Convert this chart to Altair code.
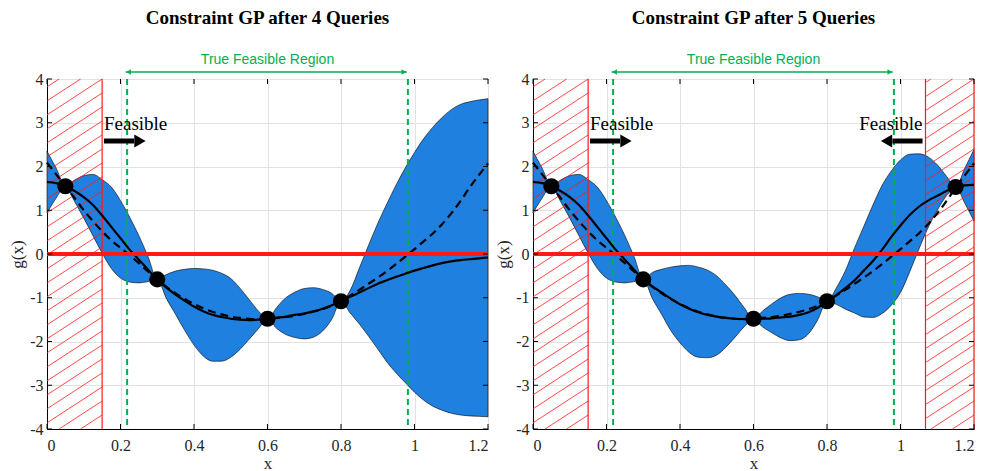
import altair as alt
import pandas as pd

# ---------------- data ----------------
X_GRID = [0.0, 0.025, 0.05, 0.075, 0.1, 0.125, 0.15, 0.175, 0.2, 0.225, 0.25, 0.275,
          0.3, 0.325, 0.35, 0.375, 0.4, 0.425, 0.45, 0.475, 0.5, 0.525, 0.55, 0.575,
          0.6, 0.625, 0.65, 0.675, 0.7, 0.725, 0.75, 0.775, 0.8, 0.825, 0.85, 0.875,
          0.9, 0.925, 0.95, 0.975, 1.0, 1.025, 1.05, 1.075, 1.1, 1.125, 1.15, 1.175, 1.2]

TRUE_G = [2.09, 1.82, 1.55, 1.28, 1.0, 0.75, 0.52, 0.31, 0.14, -0.03, -0.21, -0.4,
          -0.58, -0.75, -0.9, -1.03, -1.14, -1.24, -1.32, -1.38, -1.43, -1.46, -1.48, -1.49,
          -1.48, -1.46, -1.44, -1.41, -1.37, -1.32, -1.26, -1.18, -1.08, -0.95, -0.82, -0.68,
          -0.54, -0.39, -0.23, -0.06, 0.11, 0.29, 0.47, 0.68, 0.93, 1.21, 1.52, 1.8, 2.07]

MEAN_4 = [1.65, 1.62, 1.55, 1.44, 1.3, 1.12, 0.88, 0.62, 0.36, 0.1, -0.13, -0.36,
          -0.58, -0.77, -0.93, -1.07, -1.2, -1.31, -1.39, -1.44, -1.48, -1.5, -1.51, -1.5,
          -1.49, -1.46, -1.43, -1.39, -1.36, -1.31, -1.25, -1.17, -1.08, -0.98, -0.88, -0.78,
          -0.68, -0.6, -0.52, -0.45, -0.38, -0.32, -0.26, -0.21, -0.17, -0.14, -0.12, -0.1, -0.08]
UPPER_4 = [2.35, 1.96, 1.55, 1.69, 1.79, 1.82, 1.7, 1.53, 1.22, 0.84, 0.42, -0.06,
           -0.58, -0.47, -0.39, -0.35, -0.33, -0.34, -0.37, -0.44, -0.56, -0.78, -1.04, -1.3,
           -1.49, -1.22, -1.0, -0.87, -0.79, -0.77, -0.81, -0.9, -1.08, -0.83, -0.32, 0.2,
           0.7, 1.15, 1.58, 1.97, 2.32, 2.64, 2.9, 3.12, 3.3, 3.42, 3.48, 3.52, 3.55]
LOWER_4 = [0.94, 1.28, 1.55, 1.2, 0.82, 0.42, 0.02, -0.33, -0.55, -0.64, -0.66, -0.63,
           -0.58, -1.02, -1.38, -1.75, -2.08, -2.33, -2.45, -2.45, -2.36, -2.18, -1.95, -1.71,
           -1.49, -1.7, -1.84, -1.91, -1.94, -1.9, -1.76, -1.49, -1.08, -1.35, -1.6, -1.88,
           -2.17, -2.47, -2.72, -2.94, -3.16, -3.34, -3.48, -3.57, -3.64, -3.68, -3.7, -3.71, -3.72]

MEAN_5 = [1.65, 1.62, 1.55, 1.44, 1.3, 1.12, 0.88, 0.62, 0.36, 0.1, -0.13, -0.36,
          -0.58, -0.74, -0.88, -1.02, -1.15, -1.25, -1.33, -1.39, -1.43, -1.46, -1.48, -1.49,
          -1.49, -1.48, -1.47, -1.45, -1.43, -1.39, -1.33, -1.23, -1.08, -0.94, -0.78, -0.6,
          -0.38, -0.16, 0.1, 0.39, 0.65, 0.89, 1.08, 1.22, 1.33, 1.44, 1.53, 1.57, 1.58]
UPPER_5 = [2.35, 1.96, 1.55, 1.69, 1.79, 1.82, 1.7, 1.53, 1.22, 0.84, 0.42, -0.06,
           -0.58, -0.42, -0.35, -0.3, -0.27, -0.26, -0.3, -0.37, -0.5, -0.71, -0.95, -1.23,
           -1.49, -1.3, -1.14, -1.0, -0.92, -0.9, -0.92, -0.98, -1.08, -0.78, -0.38, 0.14,
           0.63, 1.12, 1.57, 1.9, 2.15, 2.28, 2.29, 2.22, 2.04, 1.78, 1.53, 1.96, 2.39]
LOWER_5 = [0.94, 1.28, 1.55, 1.2, 0.82, 0.42, 0.02, -0.33, -0.55, -0.64, -0.66, -0.63,
           -0.58, -1.02, -1.38, -1.75, -2.03, -2.25, -2.36, -2.37, -2.31, -2.13, -1.9, -1.66,
           -1.49, -1.67, -1.8, -1.92, -1.98, -1.96, -1.82, -1.5, -1.08, -1.15, -1.26, -1.35,
           -1.44, -1.45, -1.36, -1.17, -0.88, -0.41, 0.11, 0.6, 1.0, 1.33, 1.53, 1.16, 0.75]

QUERY_X_4 = [0.05, 0.3, 0.6, 0.8]
QUERY_G_4 = [1.55, -0.58, -1.48, -1.08]
QUERY_X_5 = [0.05, 0.3, 0.6, 0.8, 1.15]
QUERY_G_5 = [1.55, -0.58, -1.48, -1.08, 1.53]

TRUE_FEASIBLE = [0.218, 0.982]
HATCH_4 = [(0.0, 0.15)]
HATCH_5 = [(0.0, 0.15), (1.068, 1.2)]
TITLES = ["Constraint GP after 4 Queries", "Constraint GP after 5 Queries"]
X_TICKS = [0, 0.2, 0.4, 0.6, 0.8, 1, 1.2]
Y_TICKS = [-4, -3, -2, -1, 0, 1, 2, 3, 4]

# ---------------- style ----------------
W, H = 441, 350
SERIF = "Liberation Serif"
SANS = "Liberation Sans"
BAND = "#1f80e0"
RED = "#ff1a1a"
GREEN = "#00b050"

XS = alt.Scale(domain=[0, 1.2], nice=False, zero=False)
YS = alt.Scale(domain=[-4, 4], nice=False, zero=False)
X_AXIS = alt.Axis(values=X_TICKS, labelExpr="'' + datum.value", title="x")
Y_AXIS = alt.Axis(values=Y_TICKS, labelExpr="'' + datum.value", title="g(x)")


def ex(field):
    return alt.X(field, type="quantitative", scale=XS, axis=X_AXIS)


def ey(field):
    return alt.Y(field, type="quantitative", scale=YS, axis=Y_AXIS)


def hatch_lines(regions):
    k = 0.65 * (W / 1.2) / (H / 8.0)      # slope in data units
    step = 14.0 / (H / 8.0)               # vertical spacing in data units
    rows = []
    for xa, xb in regions:
        c = -4.0 - k * (xb - xa)
        while c < 4.0:
            x0, g0 = xa, c
            if g0 < -4.0:
                x0, g0 = xa + (-4.0 - c) / k, -4.0
            x1, g1 = xb, c + k * (xb - xa)
            if g1 > 4.0:
                x1, g1 = xa + (4.0 - c) / k, 4.0
            if x1 > x0:
                rows.append({"x0": x0, "g0": g0, "x1": x1, "g1": g1})
            c += step
    return pd.DataFrame(rows)


def panel(title, mean, upper, lower, qx, qg, hatch, left_arrow, right_arrow):
    df = pd.DataFrame({"x": X_GRID, "mean": mean, "upper": upper,
                       "lower": lower, "truth": TRUE_G})
    base = alt.Chart(df)
    band = base.mark_area(interpolate="monotone", color=BAND, fillOpacity=1,
                          stroke="black", strokeWidth=0.6).encode(
        x=ex("x"), y=ey("upper"), y2="lower")

    hl = alt.Chart(hatch_lines(hatch)).mark_rule(color=RED, strokeWidth=0.8).encode(
        x=ex("x0"), y=ey("g0"), x2="x1", y2="g1")
    edges = sorted({e for r in hatch for e in r if e > 0})
    he = alt.Chart(pd.DataFrame({"e": edges})).mark_rule(color=RED, strokeWidth=1.2).encode(
        x=ex("e"))

    green = alt.Chart(pd.DataFrame({"b": TRUE_FEASIBLE})).mark_rule(
        color=GREEN, strokeWidth=2, strokeDash=[6, 4]).encode(x=ex("b"))

    mean_l = base.mark_line(interpolate="monotone", color="black", strokeWidth=2.2).encode(
        x=ex("x"), y=ey("mean"))
    truth_l = base.mark_line(interpolate="monotone", color="black", strokeWidth=2.2,
                             strokeDash=[8, 5]).encode(x=ex("x"), y=ey("truth"))

    zero = alt.Chart(pd.DataFrame({"z": [0]})).mark_rule(color=RED, strokeWidth=4).encode(
        y=ey("z"))

    pts = alt.Chart(pd.DataFrame({"qx": qx, "qg": qg})).mark_circle(
        size=260, color="black", opacity=1).encode(x=ex("qx"), y=ey("qg"))

    # inner ticks (MATLAB style)
    xt = pd.DataFrame({"t": X_TICKS})
    yt = pd.DataFrame({"t": Y_TICKS})
    tick_b = alt.Chart(xt).mark_rule(color="black").encode(
        x=ex("t"), y=alt.value(H), y2=alt.value(H - 5))
    tick_t = alt.Chart(xt).mark_rule(color="black").encode(
        x=ex("t"), y=alt.value(0), y2=alt.value(5))
    tick_l = alt.Chart(yt).mark_rule(color="black").encode(
        y=ey("t"), x=alt.value(0), x2=alt.value(5))
    tick_r = alt.Chart(yt).mark_rule(color="black").encode(
        y=ey("t"), x=alt.value(W), x2=alt.value(W - 5))

    # green "True Feasible Region" double arrow above the plot
    ga = alt.Chart(pd.DataFrame({"a": [TRUE_FEASIBLE[0] - 0.004],
                                 "b": [TRUE_FEASIBLE[1] - 0.003]})).mark_rule(
        color=GREEN, strokeWidth=1.5).encode(x=ex("a"), x2="b", y=alt.value(-7))
    gl = alt.Chart(pd.DataFrame({"h": [TRUE_FEASIBLE[0] + 0.004]})).mark_point(
        shape="triangle-left", filled=True, size=30, color=GREEN, opacity=1).encode(
        x=ex("h"), y=alt.value(-7))
    gr = alt.Chart(pd.DataFrame({"h": [TRUE_FEASIBLE[1] - 0.011]})).mark_point(
        shape="triangle-right", filled=True, size=30, color=GREEN, opacity=1).encode(
        x=ex("h"), y=alt.value(-7))
    gt = alt.Chart(pd.DataFrame({"m": [sum(TRUE_FEASIBLE) / 2],
                                 "t": ["True Feasible Region"]})).mark_text(
        font=SANS, fontSize=14, color=GREEN, baseline="middle").encode(
        x=ex("m"), y=alt.value(-19), text="t:N")

    ttl = alt.Chart(pd.DataFrame({"t": [title]})).mark_text(
        font=SERIF, fontSize=19, fontWeight="bold", color="black", baseline="middle").encode(
        x=alt.value(W / 2), y=alt.value(-61), text="t:N")

    layers = [band, hl, he, green, mean_l, truth_l, zero, pts,
              tick_b, tick_t, tick_l, tick_r, ga, gl, gr, gt, ttl]

    # "Feasible" labels with black arrows
    if left_arrow is not None:
        x0 = left_arrow
        layers.append(alt.Chart(pd.DataFrame({"x": [x0], "t": ["Feasible"]})).mark_text(
            font=SERIF, fontSize=19, align="left", baseline="middle", color="black").encode(
            x=ex("x"), y=alt.value(45), text="t:N"))
        layers.append(alt.Chart(pd.DataFrame({"a": [x0], "b": [x0 + 0.082]})).mark_rule(
            color="black", strokeWidth=5).encode(x=ex("a"), x2="b", y=alt.value(62)))
        layers.append(alt.Chart(pd.DataFrame({"h": [x0 + 0.098]})).mark_point(
            shape="triangle-right", filled=True, size=170, color="black", opacity=1).encode(
            x=ex("h"), y=alt.value(62)))
    if right_arrow is not None:
        x1 = right_arrow
        layers.append(alt.Chart(pd.DataFrame({"x": [x1], "t": ["Feasible"]})).mark_text(
            font=SERIF, fontSize=19, align="right", baseline="middle", color="black").encode(
            x=ex("x"), y=alt.value(45), text="t:N"))
        layers.append(alt.Chart(pd.DataFrame({"a": [x1 - 0.082], "b": [x1]})).mark_rule(
            color="black", strokeWidth=5).encode(x=ex("a"), x2="b", y=alt.value(62)))
        layers.append(alt.Chart(pd.DataFrame({"h": [x1 - 0.098]})).mark_point(
            shape="triangle-left", filled=True, size=170, color="black", opacity=1).encode(
            x=ex("h"), y=alt.value(62)))

    return alt.layer(*layers).properties(width=W, height=H)


left = panel(TITLES[0], MEAN_4, UPPER_4, LOWER_4, QUERY_X_4, QUERY_G_4, HATCH_4, 0.155, None)
right = panel(TITLES[1], MEAN_5, UPPER_5, LOWER_5, QUERY_X_5, QUERY_G_5, HATCH_5, 0.155, 1.06)

chart = alt.hconcat(left, right, spacing=45, bounds="flush").properties(
    padding={"left": 0, "top": 0, "right": 4, "bottom": 0}
).configure_view(
    stroke="black", strokeWidth=1
).configure_axis(
    grid=True, gridColor="#e2e2e2", gridWidth=1,
    domain=True, domainColor="black", domainWidth=1,
    ticks=False,
    labelFont=SERIF, labelFontSize=16, labelColor="#262626",
    titleFont=SERIF, titleFontSize=17, titleFontWeight="normal", titleColor="#262626"
).configure_axisX(
    labelPadding=8, titlePadding=2
).configure_axisY(
    labelPadding=4, titlePadding=3
)

chart.save("out.html", embed_options={"renderer": "svg", "actions": False})
